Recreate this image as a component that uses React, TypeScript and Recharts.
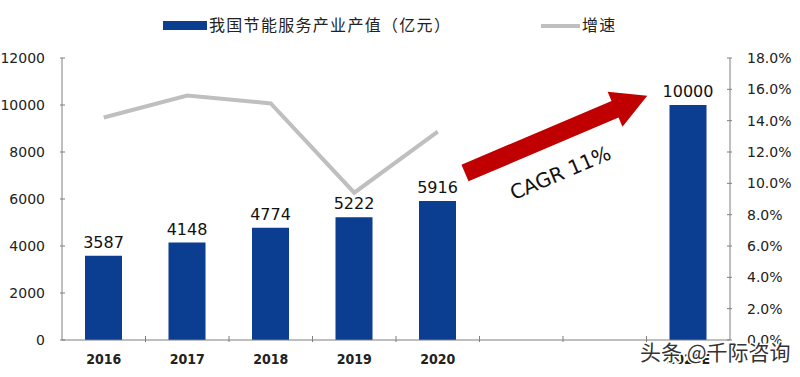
import { Bar, ComposedChart, LabelList, Line, XAxis, YAxis } from "recharts";

const years = ["2016", "2017", "2018", "2019", "2020", "", " ", "2025E"];
const outputValues = [3587, 4148, 4774, 5222, 5916, null, null, 10000];
const growthRates = [0.142, 0.156, 0.151, 0.094, 0.133, null, null, null];
const leftTicks = [0, 2000, 4000, 6000, 8000, 10000, 12000];
const rightTicks = [0, 0.02, 0.04, 0.06, 0.08, 0.1, 0.12, 0.14, 0.16, 0.18];

const chartData = years.map((year, i) => ({
  year,
  output: outputValues[i],
  growth: growthRates[i],
}));

const W = 800;
const H = 377;
const LEFT_W = 62;
const RIGHT_W = 70;
const SLOT = (W - LEFT_W - RIGHT_W) / years.length;
const BLUE = "#0B3D91";
const GRAY = "#BFBFBF";
const NUM_FONT = "'DejaVu Sans', Verdana, sans-serif";
const CJK_FONT = "'Noto Sans CJK SC', sans-serif";

// recharts offsets tick positions by the tick size (6px) even when tickLine is off
function LeftTick(props: any) {
  const { x, y, payload } = props;
  const axisX = x + 6;
  return (
    <g>
      <line x1={axisX} x2={axisX + 5} y1={y} y2={y} stroke="#7f7f7f" />
      <text x={axisX - 15} y={y} dy={5} textAnchor="end" fontSize={14} fontFamily={NUM_FONT} fill="#222">
        {payload.value}
      </text>
    </g>
  );
}

function RightTick(props: any) {
  const { x, y, payload } = props;
  const axisX = x - 6;
  return (
    <g>
      <line x1={axisX - 5} x2={axisX} y1={y} y2={y} stroke="#7f7f7f" />
      <text x={axisX + 15} y={y} dy={5} textAnchor="start" fontSize={14} fontFamily={NUM_FONT} fill="#222">
        {(payload.value * 100).toFixed(1) + "%"}
      </text>
    </g>
  );
}

function BottomTick(props: any) {
  const { x, y, payload, index } = props;
  const axisY = y - 6;
  const right = x + SLOT / 2;
  return (
    <g>
      {index < years.length - 1 && (
        <line x1={right} x2={right} y1={axisY - 6} y2={axisY} stroke="#7f7f7f" />
      )}
      <text
        x={x}
        y={axisY + 22}
        textAnchor="middle"
        fontSize={14}
        fontWeight="bold"
        fontFamily={NUM_FONT}
        fill="#222"
        transform={`translate(${x * 0.1},0) scale(0.9,1)`}
      >
        {payload.value.trim()}
      </text>
    </g>
  );
}

export default function App() {
  return (
    <div style={{ position: "absolute", left: 0, top: 0, width: W, height: H, background: "#fff" }}>
      <ComposedChart
        width={W}
        height={H}
        data={chartData}
        margin={{ top: 58, right: 0, left: 0, bottom: 0 }}
        barCategoryGap={0}
      >
        <XAxis
          dataKey="year"
          height={37}
          interval={0}
          stroke="#7f7f7f"
          tickLine={false}
          tick={<BottomTick />}
        />
        <YAxis
          yAxisId="left"
          width={LEFT_W}
          domain={[0, 12000]}
          ticks={leftTicks}
          stroke="#7f7f7f"
          tickLine={false}
          tick={<LeftTick />}
          interval={0}
        />
        <YAxis
          yAxisId="right"
          orientation="right"
          width={RIGHT_W}
          domain={[0, 0.18]}
          ticks={rightTicks}
          stroke="#7f7f7f"
          tickLine={false}
          tick={<RightTick />}
          interval={0}
        />
        <Bar yAxisId="left" dataKey="output" fill={BLUE} barSize={37} isAnimationActive={false}>
          <LabelList dataKey="output" position="top" offset={8} fontSize={16} fontFamily={NUM_FONT} fill="#111" />
        </Bar>
        <Line
          yAxisId="right"
          dataKey="growth"
          stroke={GRAY}
          strokeWidth={4}
          dot={false}
          type="linear"
          isAnimationActive={false}
        />
      </ComposedChart>

      <svg width={W} height={H} style={{ position: "absolute", left: 0, top: 0, pointerEvents: "none" }}>
        {/* legend */}
        <rect x={163} y={21} width={44} height={9} fill={BLUE} />
        <text x={209} y={31} fontSize={16} letterSpacing={1.3} fontFamily={CJK_FONT} fill="#222">
          我国节能服务产业产值（亿元）
        </text>
        <line x1={541} x2={580} y1={26} y2={26} stroke={GRAY} strokeWidth={4} />
        <text x={582} y={31} fontSize={16} letterSpacing={1.3} fontFamily={CJK_FONT} fill="#222">
          增速
        </text>

        {/* CAGR arrow */}
        <g transform="translate(465,173) rotate(-23)">
          <polygon points="0,-9 163,-9 163,-19 198,0 163,19 163,9 0,9" fill="#C00000" />
        </g>
        <text
          x={560}
          y={180}
          textAnchor="middle"
          fontSize={20}
          fontFamily={NUM_FONT}
          fill="#111"
          transform="rotate(-23 560 172)"
        >
          CAGR 11%
        </text>

        {/* source mark */}
        <text
          x={640}
          y={360}
          fontSize={21}
          fontFamily={CJK_FONT}
          fill="#333"
          stroke="#fff"
          strokeWidth={3}
          paintOrder="stroke"
        >
          头条 @千际咨询
        </text>
      </svg>
    </div>
  );
}
